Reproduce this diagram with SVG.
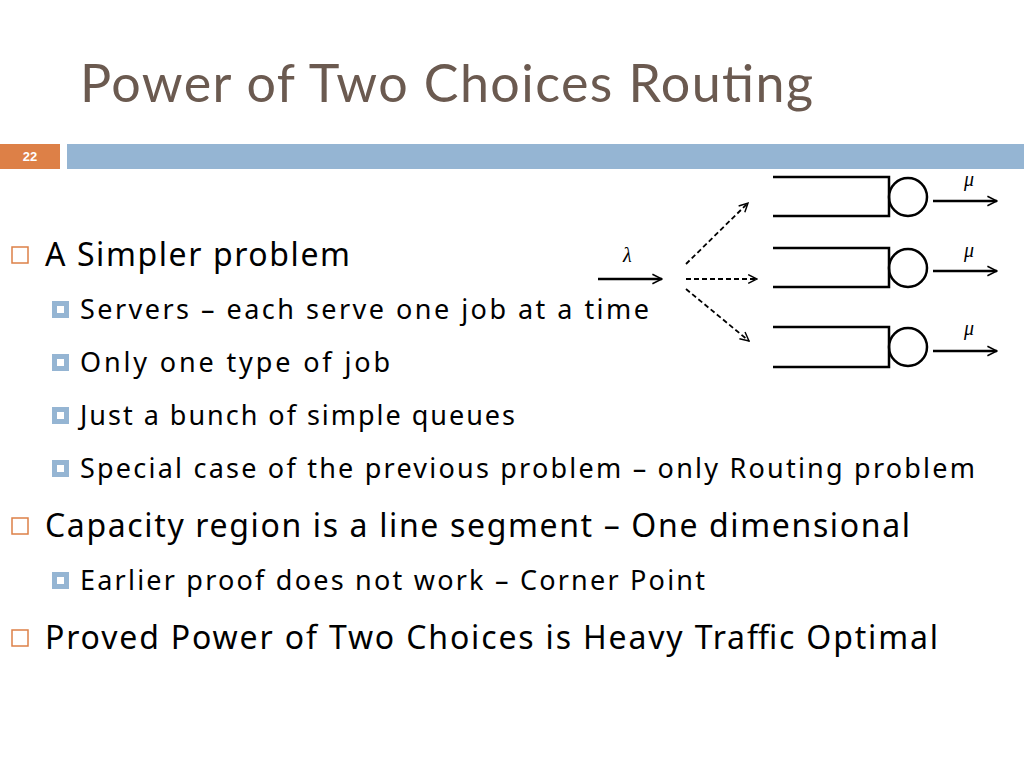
<svg xmlns="http://www.w3.org/2000/svg" width="1024" height="768" viewBox="0 0 1024 768">
<style>
.t{font-family:"Noto Sans","DejaVu Sans",sans-serif;fill:#000}
.l1{font-size:32px}
.l2{font-size:27px}
.ln{stroke:#000;stroke-width:2.5;fill:none}
.d{stroke:#000;stroke-width:1.8;stroke-dasharray:5,3;fill:none}
.mu{font-family:"Liberation Serif",serif;font-style:italic;font-size:20px}
</style>
<defs>
<marker id="a" viewBox="0 0 10 10" refX="9" refY="5" markerWidth="11" markerHeight="11" orient="auto" markerUnits="userSpaceOnUse"><path d="M1,1 L9,5 L1,9" fill="none" stroke="#000" stroke-width="1.3"/></marker>
<marker id="b" viewBox="0 0 10 10" refX="9" refY="5" markerWidth="12" markerHeight="12" orient="auto" markerUnits="userSpaceOnUse"><path d="M1,1 L9,5 L1,9" fill="none" stroke="#000" stroke-width="1.3"/></marker>
</defs>
<rect width="1024" height="768" fill="#fff"/>
<text x="80" y="102" font-family="Lato,'Noto Sans',sans-serif" font-size="52" fill="#6b5a50" textLength="733">Power of Two Choices Routing</text>
<rect x="0" y="144" width="60" height="25" fill="#dd8047"/>
<text x="30" y="161" text-anchor="middle" font-family="Liberation Sans,sans-serif" font-weight="bold" font-size="13" fill="#fff">22</text>
<rect x="67" y="144" width="957" height="25" fill="#95b5d3"/>
<g id="bullets">
<rect x="12" y="247" width="16" height="16" fill="none" stroke="#dd8047" stroke-width="1.5"/>
<text class="t l1" x="45" y="266" textLength="305">A Simpler problem</text>
<rect x="52" y="301" width="17" height="17" fill="#95b5d3"/><rect x="57" y="306" width="7" height="7" fill="#fff"/>
<text class="t l2" x="80" y="319" textLength="569">Servers – each serve one job at a time</text>
<rect x="52" y="354" width="17" height="17" fill="#95b5d3"/><rect x="57" y="359" width="7" height="7" fill="#fff"/>
<text class="t l2" x="80" y="372" textLength="310">Only one type of job</text>
<rect x="52" y="407" width="17" height="17" fill="#95b5d3"/><rect x="57" y="412" width="7" height="7" fill="#fff"/>
<text class="t l2" x="80" y="425" textLength="435">Just a bunch of simple queues</text>
<rect x="52" y="460" width="17" height="17" fill="#95b5d3"/><rect x="57" y="465" width="7" height="7" fill="#fff"/>
<text class="t l2" x="80" y="478" textLength="895">Special case of the previous problem – only Routing problem</text>
<rect x="12" y="518" width="16" height="16" fill="none" stroke="#dd8047" stroke-width="1.5"/>
<text class="t l1" x="45" y="537" textLength="865">Capacity region is a line segment – One dimensional</text>
<rect x="52" y="572" width="17" height="17" fill="#95b5d3"/><rect x="57" y="577" width="7" height="7" fill="#fff"/>
<text class="t l2" x="80" y="590" textLength="625">Earlier proof does not work – Corner Point</text>
<rect x="12" y="630" width="16" height="16" fill="none" stroke="#dd8047" stroke-width="1.5"/>
<text class="t l1" x="45" y="649" textLength="893">Proved Power of Two Choices is Heavy Traffic Optimal</text>
</g>
<g id="q1"><path class="ln" d="M773,177 H889 V216 H773"/><circle class="ln" cx="908" cy="197" r="19"/></g>
<g id="q2"><path class="ln" d="M773,248 H889 V287 H773"/><circle class="ln" cx="908" cy="268" r="19"/></g>
<g id="q3"><path class="ln" d="M773,327 H889 V367 H773"/><circle class="ln" cx="908" cy="347" r="19"/></g>
<text class="mu" x="964" y="186">μ</text>
<text class="mu" x="964" y="257">μ</text>
<text class="mu" x="964" y="335">μ</text>
<text class="mu" x="623" y="262">λ</text>
<g id="connectors">
<line class="ln" x1="598" y1="279" x2="662" y2="279" marker-end="url(#b)"/>
<line class="d" x1="686" y1="264" x2="748" y2="203" marker-end="url(#a)"/>
<line class="d" x1="686" y1="279" x2="757" y2="279" marker-end="url(#a)"/>
<line class="d" x1="686" y1="289" x2="749" y2="341" marker-end="url(#a)"/>
<line class="ln" x1="933" y1="201" x2="997" y2="201" marker-end="url(#b)"/>
<line class="ln" x1="933" y1="271" x2="997" y2="271" marker-end="url(#b)"/>
<line class="ln" x1="933" y1="351" x2="997" y2="351" marker-end="url(#b)"/>
</g>
</svg>
